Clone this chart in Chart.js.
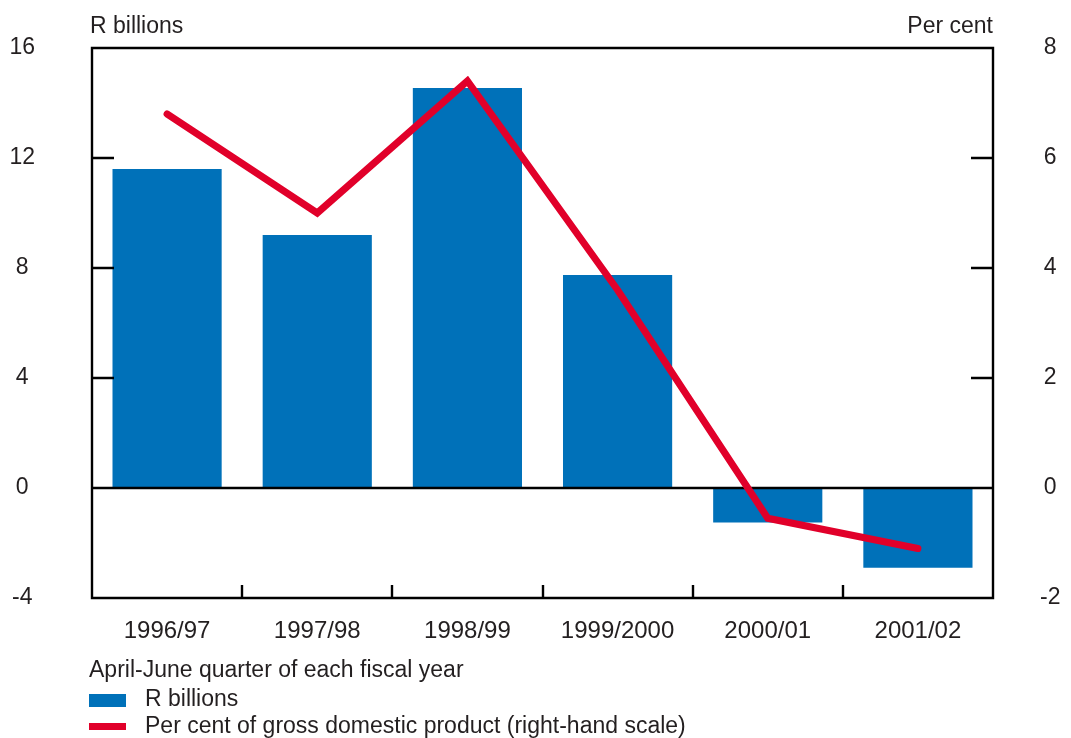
<!DOCTYPE html>
<html>
<head>
<meta charset="utf-8">
<script src="https://cdn.jsdelivr.net/npm/chart.js@4/dist/chart.umd.min.js"></script>
<style>
  html, body { margin: 0; padding: 0; background: #ffffff; }
  #wrap { width: 1071px; height: 738px; position: relative; }
</style>
</head>
<body>
<div id="wrap"><canvas id="c" width="1071" height="738"></canvas></div>
<script>
// Fiscal years (April-June quarter of each)
const categories = ['1996/97', '1997/98', '1998/99', '1999/2000', '2000/01', '2001/02'];
// Amount in R billions (left scale)
const randBillions = [11.6, 9.2, 14.55, 7.75, -1.25, -2.9];
// Per cent of gross domestic product (right scale)
const pctOfGdp = [6.8, 5.0, 7.4, 3.6, -0.55, -1.1];
// Axis ticks
const leftTicks = [-4, 0, 4, 8, 12, 16];
const rightTicks = [-2, 0, 2, 4, 6, 8];

const BLUE = '#0071b9';
const RED = '#e1002a';
const INK = '#231f20';
const FONT = "'Liberation Sans', Arial, Helvetica, sans-serif";

Chart.defaults.font.family = FONT;
Chart.defaults.font.size = 23;
Chart.defaults.color = INK;

// Frame, inward tick marks and zero line
const framePlugin = {
  id: 'frame',
  afterDatasetDraw(chart, args) {
    if (args.index !== 0) return;
    const { ctx, chartArea: a, scales } = chart;
    const x = scales.x, y = scales.y, y1 = scales.y1;
    ctx.save();
    ctx.strokeStyle = '#000';
    ctx.lineWidth = 2.4;
    ctx.lineCap = 'butt';
    // outer frame
    ctx.beginPath();
    ctx.rect(a.left, a.top, a.right - a.left, a.bottom - a.top);
    ctx.stroke();
    // zero line
    const z = Math.round(y.getPixelForValue(0));
    ctx.beginPath();
    ctx.moveTo(a.left, z);
    ctx.lineTo(a.right, z);
    ctx.stroke();
    // left ticks
    ctx.beginPath();
    leftTicks.forEach(v => {
      if (v === leftTicks[0] || v === leftTicks[leftTicks.length - 1] || v === 0) return;
      const p = Math.round(y.getPixelForValue(v));
      ctx.moveTo(a.left, p); ctx.lineTo(a.left + 22, p);
    });
    // right ticks
    rightTicks.forEach(v => {
      if (v === rightTicks[0] || v === rightTicks[rightTicks.length - 1] || v === 0) return;
      const p = Math.round(y1.getPixelForValue(v));
      ctx.moveTo(a.right, p); ctx.lineTo(a.right - 22, p);
    });
    // category boundary ticks on the bottom axis
    for (let i = 1; i < categories.length; i++) {
      const p = Math.round((x.getPixelForValue(i - 1) + x.getPixelForValue(i)) / 2);
      ctx.moveTo(p, a.bottom); ctx.lineTo(p, a.bottom - 13);
    }
    ctx.stroke();
    ctx.restore();
  },
  afterDraw(chart) {
    const { ctx, chartArea: a } = chart;
    ctx.save();
    ctx.fillStyle = INK;
    ctx.font = '23px ' + FONT;
    ctx.textBaseline = 'middle';
    // axis units
    ctx.textAlign = 'left';
    ctx.fillText('R billions', a.left - 2, 27);
    ctx.textAlign = 'right';
    ctx.fillText('Per cent', a.right, 27);
    // note and legend
    ctx.textAlign = 'left';
    ctx.fillText('April-June quarter of each fiscal year', 89, 671);
    const ds = chart.data.datasets;
    ctx.fillStyle = ds[0].backgroundColor;
    ctx.fillRect(89, 694, 37, 13);
    ctx.fillStyle = ds[1].borderColor;
    ctx.fillRect(89, 723, 37, 7);
    ctx.fillStyle = INK;
    ctx.fillText(ds[0].label, 145, 700);
    ctx.fillText(ds[1].label, 145, 727);
    ctx.restore();
  }
};

// vertical axes: fixed width, no extra top/bottom padding from tick spacing
function fixVertical(width) {
  return function (s) {
    s.width = width;
    s.paddingTop = 0;
    s.paddingBottom = 0;
  };
}

new Chart(document.getElementById('c'), {
  type: 'bar',
  data: {
    labels: categories,
    datasets: [
      {
        type: 'bar',
        label: 'R billions',
        data: randBillions,
        backgroundColor: BLUE,
        borderWidth: 0,
        yAxisID: 'y',
        barPercentage: 0.727,
        categoryPercentage: 1,
        order: 1
      },
      {
        type: 'line',
        label: 'Per cent of gross domestic product (right-hand scale)',
        data: pctOfGdp,
        borderColor: RED,
        backgroundColor: RED,
        borderWidth: 7,
        borderCapStyle: 'round',
        borderJoinStyle: 'miter',
        pointRadius: 0,
        tension: 0,
        yAxisID: 'y1',
        order: 0
      }
    ]
  },
  options: {
    responsive: false,
    animation: false,
    devicePixelRatio: 1,
    layout: { padding: { top: 48, left: 0, right: 0, bottom: 0 } },
    plugins: { legend: { display: false }, tooltip: { enabled: false } },
    scales: {
      x: {
        offset: true,
        grid: { display: false, drawTicks: false },
        border: { display: false },
        ticks: { padding: 19, maxRotation: 0, font: { size: 24 } },
        afterFit(s) { s.height = 140; s.paddingLeft = 0; s.paddingRight = 0; }
      },
      y: {
        position: 'left',
        min: -4, max: 16,
        grid: { display: false, drawTicks: false },
        border: { display: false },
        ticks: {
          stepSize: 4, crossAlign: 'center', padding: 57,
          font: { size: 23 }
        },
        afterBuildTicks(s) { s.ticks = leftTicks.map(v => ({ value: v })); },
        afterFit: fixVertical(92)
      },
      y1: {
        position: 'right',
        min: -2, max: 8,
        grid: { display: false, drawTicks: false },
        border: { display: false },
        ticks: {
          stepSize: 2, crossAlign: 'center', padding: 47,
          font: { size: 23 }
        },
        afterBuildTicks(s) { s.ticks = rightTicks.map(v => ({ value: v })); },
        afterFit: fixVertical(78)
      }
    }
  },
  plugins: [framePlugin]
});
</script>
</body>
</html>
